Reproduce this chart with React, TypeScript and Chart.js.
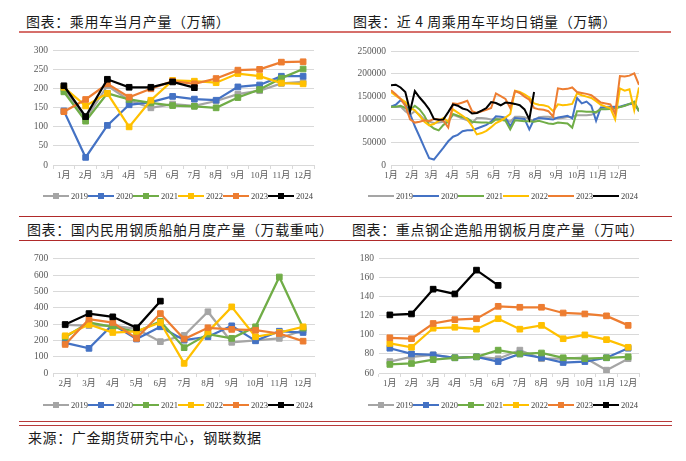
import React, { useEffect, useRef } from 'react';
import { Chart, registerables } from 'chart.js';

Chart.register(...registerables);

// ---------- shared ----------
const years = ['2019', '2020', '2021', '2022', '2023', '2024'];
const colors = ['#A5A5A5', '#4472C4', '#70AD47', '#FFC000', '#ED7D31', '#000000'];
const months12 = ['1月', '2月', '3月', '4月', '5月', '6月', '7月', '8月', '9月', '10月', '11月', '12月'];
const months2to12 = ['2月', '3月', '4月', '5月', '6月', '7月', '8月', '9月', '10月', '11月', '12月'];

// ---------- chart 1: 乘用车当月产量（万辆） ----------
const car2019 = [200, 120, 208, 170, 150, 160, 155, 168, 186, 195, 214, 218];
const car2020 = [142, 20, 104, 158, 165, 180, 173, 170, 205, 210, 233, 233];
const car2021 = [192, 115, 188, 172, 163, 156, 154, 150, 177, 198, 228, 252];
const car2022 = [204, 155, 188, 100, 170, 222, 220, 216, 240, 233, 215, 213];
const car2023 = [140, 172, 213, 178, 200, 220, 213, 227, 249, 251, 270, 271];
const car2024 = [208, 127, 225, 204, 204, 218, 203];

// ---------- chart 2: 近4周乘用车平均日销量 ----------
const salesMonthDays = [0, 31, 59, 90, 120, 151, 181, 212, 243, 273, 304, 334];
const sales2019 = [127000, 127000, 128000, 118000, 110000, 118000, 110000, 100000, 95000, 92000, 93000, 95000, 97000, 110000, 106000, 102000, 98000, 92000, 103000, 103000, 102000, 100000, 102000, 101000, 100000, 95000, 106000, 106000, 105000, 100000, 97000, 105000, 106000, 106000, 104000, 102000, 103000, 105000, 106000, 109000, 109000, 109000, 110000, 115000, 125000, 127000, 128000, 126000, 127000, 130000, 133000, 135000, 120000];
const sales2020 = [128000, 132000, 142000, 135000, 112000, 85000, 62000, 38000, 15000, 12000, 25000, 38000, 52000, 62000, 66000, 74000, 76000, 76000, 80000, 84000, 88000, 95000, 107000, 106000, 104000, 85000, 103000, 102000, 101000, 78000, 100000, 103000, 102000, 101000, 100000, 104000, 106000, 108000, 102000, 147000, 135000, 139000, 130000, 97000, 126000, 126000, 127000, 128000, 128000, 131000, 134000, 135000, 118000];
const sales2021 = [128000, 128000, 130000, 125000, 120000, 130000, 122000, 108000, 88000, 80000, 76000, 88000, 95000, 112000, 108000, 105000, 102000, 95000, 94000, 93000, 93000, 92000, 100000, 99000, 97000, 78000, 98000, 97000, 96000, 96000, 95000, 97000, 94000, 91000, 90000, 93000, 92000, 91000, 82000, 118000, 118000, 117000, 117000, 116000, 122000, 122000, 123000, 124000, 127000, 130000, 134000, 139000, 118000];
const sales2022 = [160000, 152000, 145000, 138000, 125000, 120000, 108000, 95000, 87000, 90000, 97000, 103000, 95000, 122000, 115000, 108000, 100000, 85000, 67000, 70000, 75000, 83000, 92000, 97000, 104000, 112000, 163000, 160000, 155000, 148000, 135000, 132000, 131000, 128000, 118000, 133000, 131000, 132000, 134000, 157000, 153000, 150000, 147000, 140000, 132000, 128000, 125000, 100000, 168000, 163000, 166000, 120000, 170000];
const sales2023 = [164000, 155000, 145000, 130000, 100000, 93000, 95000, 98000, 96000, 101000, 100000, 97000, 82000, 135000, 134000, 137000, 141000, 118000, 114000, 118000, 121000, 125000, 157000, 151000, 145000, 125000, 162000, 158000, 150000, 143000, 125000, 122000, 121000, 118000, 106000, 168000, 166000, 167000, 170000, 160000, 158000, 156000, 153000, 145000, 137000, 135000, 133000, 112000, 195000, 194000, 196000, 201000, 176000];
const sales2024 = [175000, 176000, 170000, 160000, 118000, 162000, 148000, 136000, 122000, 101000, 99000, 100000, 116000, 133000, 130000, 124000, 121000, 113000, 114000, 119000, 125000, 138000, 136000, 131000, 137000, 136000, 134000, 131000, 122000, 100000, 160000];

// ---------- chart 3: 国内民用钢质船舶月度产量（万载重吨） ----------
const ship2019 = [295, 290, 290, 270, 192, 230, 375, 188, 200, 212, 262];
const ship2020 = [185, 151, 297, 208, 283, 201, 222, 289, 197, 256, 248];
const ship2021 = [220, 309, 283, 252, 317, 155, 238, 212, 283, 588, 275];
const ship2022 = [228, 297, 248, 255, 309, 59, 252, 405, 222, 248, 283];
const ship2023 = [175, 330, 309, 212, 364, 208, 277, 267, 262, 242, 195];
const ship2024 = [297, 364, 344, 277, 440];

// ---------- chart 4: 重点钢企造船用钢板月度产量（万吨） ----------
const plate2019 = [72, 77, 79, 76, 77, 75, 84, 75, 75, 76, 63, 75];
const plate2020 = [86, 80, 79, 76, 77, 72, 80, 76, 71, 72, 76, 86];
const plate2021 = [69, 70, 74, 76, 77, 84, 80, 81, 76, 75, 76, 77];
const plate2022 = [91, 87, 107, 108, 106, 117, 106, 110, 96, 100, 95, 87];
const plate2023 = [97, 96, 112, 116, 117, 130, 129, 129, 123, 122, 120, 110];
const plate2024 = [121, 122, 148, 143, 168, 152];

const SERIF = "'Liberation Serif', 'Noto Sans CJK SC', serif";
const GRID = '#D9D9D9';
const TXT = '#595959';

const xlLegend = {
  id: 'xlLegend',
  afterDraw(chart: any, _args: any, opts: any) {
    const ctx = chart.ctx;
    ctx.save();
    chart.data.datasets.forEach((ds: any, i: number) => {
      const x0 = opts.x + i * opts.pitch;
      const y = opts.y;
      ctx.strokeStyle = ds.borderColor;
      ctx.lineWidth = 2;
      ctx.beginPath();
      ctx.moveTo(x0, y);
      ctx.lineTo(x0 + opts.lineLen, y);
      ctx.stroke();
      if (opts.markers) {
        ctx.fillStyle = ds.borderColor;
        ctx.fillRect(x0 + opts.lineLen / 2 - 3, y - 3, 6, 6);
      }
      ctx.fillStyle = '#404040';
      ctx.font = opts.font;
      ctx.textBaseline = 'middle';
      ctx.textAlign = 'left';
      ctx.fillText(ds.label, x0 + opts.lineLen + 2, y + 0.5);
    });
    ctx.restore();
  },
};

function markerDatasets(series: number[][]) {
  return series.map((d, i) => ({
    label: years[i],
    data: d,
    borderColor: colors[i],
    backgroundColor: colors[i],
    borderWidth: 2.25,
    pointStyle: 'rect',
    pointRadius: 4,
    pointBorderWidth: 1,
    pointBackgroundColor: colors[i],
    pointBorderColor: colors[i],
    tension: 0,
    order: 5 - i,
  }));
}

function monthlyConfig(labels: string[], series: number[][], min: number, max: number, step: number, yWidth: number, padRight: number, legendX: number, legendY: number) {
  return {
    type: 'line',
    data: { labels, datasets: markerDatasets(series) },
    plugins: [xlLegend],
    options: {
      animation: false,
      responsive: false,
      events: [],
      layout: { padding: { top: 10.5, right: padRight, left: 0, bottom: 0 } },
      plugins: {
        legend: { display: false },
        tooltip: { enabled: false },
        xlLegend: { x: legendX, y: legendY, pitch: 45, lineLen: 26, markers: true, font: `8.5px ${SERIF}` },
      },
      scales: {
        x: {
          type: 'category',
          offset: true,
          grid: { offset: true, drawOnChartArea: false, tickLength: 4, color: GRID },
          border: { color: GRID },
          ticks: { font: { family: SERIF, size: 9 }, color: TXT, padding: 1.5, maxRotation: 0, autoSkip: false },
          afterFit: (s: any) => { s.height = 45; },
        },
        y: {
          min, max,
          ticks: { stepSize: step, font: { family: SERIF, size: 9.5 }, color: TXT, padding: 5, callback: (v: any) => String(v) },
          grid: { color: GRID, drawTicks: false },
          border: { display: false },
          afterFit: (s: any) => { s.width = yWidth; },
        },
      },
    },
  };
}

function salesConfig() {
  const series = [sales2019, sales2020, sales2021, sales2022, sales2023, sales2024];
  return {
    type: 'line',
    data: {
      datasets: series.map((d, i) => ({
        label: years[i],
        data: d.map((v, k) => ({ x: k * 7, y: v })),
        borderColor: colors[i],
        backgroundColor: colors[i],
        borderWidth: 2,
        pointRadius: 0,
        tension: 0,
        order: 5 - i,
      })),
    },
    plugins: [xlLegend],
    options: {
      animation: false,
      responsive: false,
      events: [],
      layout: { padding: { top: 11, right: 34, left: 0, bottom: 0 } },
      plugins: {
        legend: { display: false },
        tooltip: { enabled: false },
        xlLegend: { x: 25, y: 156, pitch: 45, lineLen: 26, markers: false, font: `8.5px ${SERIF}` },
      },
      scales: {
        x: {
          type: 'linear',
          min: 0,
          max: 364,
          afterBuildTicks: (s: any) => { s.ticks = salesMonthDays.map((v) => ({ value: v })); },
          grid: { drawOnChartArea: false, tickLength: 4, color: GRID },
          border: { color: GRID },
          ticks: {
            callback: (_v: any, i: number) => months12[i],
            font: { family: SERIF, size: 9 }, color: TXT, padding: 1.5, maxRotation: 0, autoSkip: false,
          },
          afterFit: (s: any) => { s.height = 45; },
        },
        y: {
          min: 0, max: 250000,
          ticks: { stepSize: 50000, font: { family: SERIF, size: 9.5 }, color: TXT, padding: 5, callback: (v: any) => String(v) },
          grid: { color: GRID, drawTicks: false },
          border: { display: false },
          afterFit: (s: any) => { s.width = 48; },
        },
      },
    },
  };
}

function ChartBox({ make, left, top, w, h }: any) {
  const ref = useRef<HTMLCanvasElement>(null);
  useEffect(() => {
    const c = new Chart(ref.current as HTMLCanvasElement, make() as any);
    return () => c.destroy();
  }, []);
  return (
    <canvas ref={ref} width={w} height={h}
      style={{ position: 'absolute', left, top, width: w, height: h }} />
  );
}

const titleStyle: React.CSSProperties = {
  position: 'absolute',
  fontFamily: "'Noto Sans CJK SC', sans-serif",
  fontSize: 14,
  lineHeight: '14px',
  letterSpacing: '0.6px',
  color: '#1a1a1a',
  whiteSpace: 'nowrap',
};

function HLine({ left, top, width, height, color }: any) {
  return <div style={{ position: 'absolute', left, top, width, height, background: color }} />;
}

export default function App() {
  return (
    <div style={{ position: 'absolute', left: 0, top: 0, width: 686, height: 461, background: '#fff', overflow: 'hidden' }}>
      <div style={{ ...titleStyle, left: 26, top: 13.5 }}>图表：乘用车当月产量（万辆）</div>
      <div style={{ ...titleStyle, left: 353, top: 13.5 }}>图表：近 4 周乘用车平均日销量（万辆）</div>
      <HLine left={19} top={31} width={652} height={2} color="#D66F6B" />

      <ChartBox left={8} top={40} w={330} h={170}
        make={() => monthlyConfig(months12, [car2019, car2020, car2021, car2022, car2023, car2024], 0, 300, 50, 45, 24, 35, 156)} />
      <ChartBox left={343} top={40} w={330} h={170} make={salesConfig} />

      <HLine left={19} top={215.5} width={653} height={1} color="#B02A2A" />
      <div style={{ ...titleStyle, left: 27, top: 221.5 }}>图表：国内民用钢质船舶月度产量（万载重吨）</div>
      <div style={{ ...titleStyle, left: 352, top: 221.5 }}>图表：重点钢企造船用钢板月度产量（万吨）</div>
      <HLine left={19} top={239.5} width={653} height={1} color="#B02A2A" />

      <ChartBox left={8} top={248} w={330} h={170}
        make={() => monthlyConfig(months2to12, [ship2019, ship2020, ship2021, ship2022, ship2023, ship2024], 0, 700, 100, 45.3, 23, 35, 157)} />
      <ChartBox left={343} top={248} w={330} h={170}
        make={() => monthlyConfig(months12, [plate2019, plate2020, plate2021, plate2022, plate2023, plate2024], 60, 180, 20, 36, 34, 25, 157)} />

      <HLine left={19} top={420.5} width={653} height={1} color="#B83A3A" />
      <HLine left={19} top={424.5} width={653} height={1} color="#B83A3A" />
      <div style={{ ...titleStyle, left: 28, top: 430 }}>来源：广金期货研究中心，钢联数据</div>
    </div>
  );
}
